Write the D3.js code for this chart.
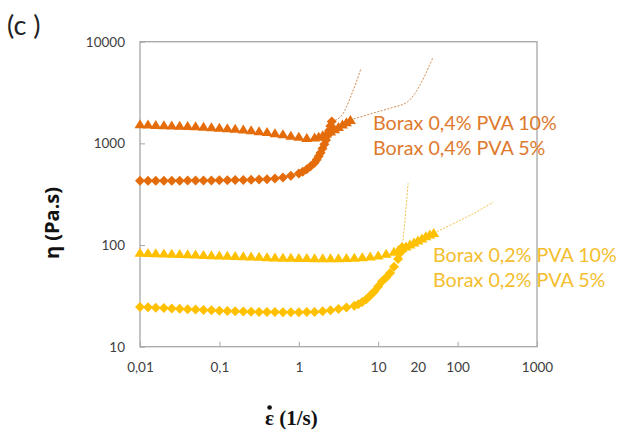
<!DOCTYPE html>
<html>
<head>
<meta charset="utf-8">
<script src="https://cdn.jsdelivr.net/npm/d3@7"></script>
<style>
  body { margin: 0; background: #fff; }
  svg { display: block; }
</style>
</head>
<body>
<div id="chart"></div>
<script>
// Borax 0,4% PVA 10%  (triangles)
const rateB4P10 = [0.01, 0.0126, 0.0158, 0.02, 0.0251, 0.0316, 0.0398, 0.0501, 0.0631, 0.0794,
  0.1, 0.126, 0.158, 0.2, 0.251, 0.316, 0.398, 0.501, 0.631, 0.794,
  1, 1.26, 1.58, 1.78, 2, 2.24, 2.51, 2.82, 3.16, 3.55, 3.98, 4.47];
const etaB4P10 = [1540, 1530, 1520, 1510, 1500, 1490, 1480, 1470, 1455, 1440,
  1425, 1410, 1390, 1370, 1345, 1315, 1290, 1260, 1230, 1190,
  1160, 1130, 1140, 1160, 1200, 1250, 1310, 1380, 1450, 1530, 1610, 1700];

// Borax 0,4% PVA 5%  (diamonds)
const rateB4P5 = [0.01, 0.0126, 0.0158, 0.02, 0.0251, 0.0316, 0.0398, 0.0501, 0.0631, 0.0794,
  0.1, 0.126, 0.158, 0.2, 0.251, 0.316, 0.398, 0.501, 0.631, 0.794,
  1, 1.12, 1.26, 1.41, 1.58, 1.68, 1.78, 1.88, 1.99, 2.1, 2.2, 2.3, 2.4, 2.5, 2.6];
const etaB4P5 = [430, 430, 430, 430, 430, 430, 431, 431, 432, 432,
  433, 434, 435, 436, 438, 440, 444, 450, 462, 480,
  505, 525, 555, 595, 645, 690, 745, 810, 890, 980, 1080, 1200, 1330, 1480, 1640];

// Borax 0,2% PVA 10%  (triangles)
const rateB2P10 = [0.01, 0.0126, 0.0158, 0.02, 0.0251, 0.0316, 0.0398, 0.0501, 0.0631, 0.0794,
  0.1, 0.126, 0.158, 0.2, 0.251, 0.316, 0.398, 0.501, 0.631, 0.794,
  1, 1.26, 1.58, 2, 2.51, 3.16, 3.98, 5.01, 6.31, 7.94,
  10, 12.6, 15.8, 17.8, 20, 22.4, 25.1, 28.2, 31.6, 35.5, 39.8, 44.7, 50];
const etaB2P10 = [84, 83.5, 83, 82.5, 82, 81.5, 81, 80.5, 80, 79.5,
  79, 78.5, 78, 77.5, 77, 76.5, 76, 75.5, 75, 75,
  74.5, 74.5, 74, 74, 74, 74, 74.5, 75, 76, 77,
  79, 82, 86, 89, 93, 97, 101, 106, 111, 116, 122, 127, 131];

// Borax 0,2% PVA 5%  (diamonds)
const rateB2P5 = [0.01, 0.0126, 0.0158, 0.02, 0.0251, 0.0316, 0.0398, 0.0501, 0.0631, 0.0794,
  0.1, 0.126, 0.158, 0.2, 0.251, 0.316, 0.398, 0.501, 0.631, 0.794,
  1, 1.26, 1.58, 2, 2.51, 3.16, 3.98, 5.01, 5.62, 6.31, 7.08, 7.94, 8.91,
  10, 11.2, 12.6, 14.1, 15.8, 17.8, 19, 20];
const etaB2P5 = [24.6, 24.4, 24.2, 24, 23.8, 23.6, 23.4, 23.2, 23, 22.8,
  22.6, 22.5, 22.3, 22.2, 22.1, 22, 21.9, 21.9, 21.8, 21.8,
  21.8, 21.9, 22, 22.3, 22.8, 23.5, 24.3, 25.3, 26.2, 27.5, 29.3, 31.8, 35,
  39, 44, 48, 53, 61, 73, 84, 95];

// dotted fit lines
const fitRateB4P10 = [4.47, 8, 15, 23.2, 29, 34, 39, 44, 49];
const fitEtaB4P10 = [1700, 1950, 2250, 2550, 3100, 3800, 4700, 5800, 7000];
const fitRateB4P5 = [2.6, 3.5, 4.6, 6.1];
const fitEtaB4P5 = [1640, 1900, 3000, 5500];
const fitRateB2P10 = [50, 100, 180, 281];
const fitEtaB2P10 = [131, 170, 215, 265];
const fitRateB2P5 = [20, 21.5, 22.7, 23.8];
const fitEtaB2P5 = [95, 160, 260, 405];

const xTicks = [0.01, 0.1, 1, 10, 100, 1000];
const xTickLabels = ['0,01', '0,1', '1', '10', '100', '1000'];
const yTicks = [10, 100, 1000, 10000];
const yTickLabels = ['10', '100', '1000', '10000'];
const legendLabels = ['Borax 0,4% PVA 10%', 'Borax 0,4% PVA 5%', 'Borax 0,2% PVA 10%', 'Borax 0,2% PVA 5%'];

const orange = '#E46C0A';
const yellow = '#FFC000';

const W = 618, H = 432;
const margin = { top: 41.7, right: 81, bottom: 85.3, left: 140 };

const svg = d3.select('#chart').append('svg')
  .attr('width', W)
  .attr('height', H)
  .style('font-family', 'Lato, "Open Sans", sans-serif');

const x = d3.scaleLog().domain([0.01, 1000]).range([margin.left, W - margin.right]);
const y = d3.scaleLog().domain([10, 10000]).range([H - margin.bottom, margin.top]);

// plot frame
svg.append('rect')
  .attr('x', x(0.01)).attr('y', y(10000))
  .attr('width', x(1000) - x(0.01)).attr('height', y(10) - y(10000))
  .attr('fill', 'none').attr('stroke', '#a6a6a6').attr('stroke-width', 1.3);

// x axis (ticks pointing inward)
const xAxis = svg.append('g')
  .attr('transform', `translate(0,${y(10)})`)
  .call(d3.axisBottom(x).tickValues(xTicks).tickSize(-5).tickFormat((d, i) => xTickLabels[i]));
xAxis.select('.domain').remove();
xAxis.selectAll('line').attr('stroke', '#a6a6a6');
xAxis.selectAll('text').attr('y', 25).attr('dy', 0)
  .attr('fill', '#404040').style('font-size', '13.5px').style('font-family', 'Lato, sans-serif');

// extra "20" label under the axis
svg.append('text')
  .attr('x', x(32)).attr('y', y(10) + 25)
  .attr('text-anchor', 'middle').attr('fill', '#404040')
  .style('font-size', '13.5px')
  .text('20');

// y axis
const yAxis = svg.append('g')
  .attr('transform', `translate(${x(0.01)},0)`)
  .call(d3.axisLeft(y).tickValues(yTicks).tickSize(-5).tickFormat((d, i) => yTickLabels[i]));
yAxis.select('.domain').remove();
yAxis.selectAll('line').attr('stroke', '#a6a6a6');
yAxis.selectAll('text').attr('x', -15)
  .attr('fill', '#404040').style('font-size', '13.5px').style('font-family', 'Lato, sans-serif');

// marker shapes
const triangle = 'M0,-5L5.5,4L-5.5,4Z';
const diamond = 'M0,-5L5,0L0,5L-5,0Z';

const fitLine = d3.line()
  .x(d => x(d[0]))
  .y(d => y(d[1]))
  .curve(d3.curveMonotoneX);

function drawFit(rates, etas, color) {
  svg.append('path')
    .datum(rates.map((r, i) => [r, etas[i]]))
    .attr('d', fitLine)
    .attr('fill', 'none')
    .attr('stroke', color)
    .attr('stroke-width', 1)
    .attr('stroke-dasharray', '2,1.5');
}

function drawSeries(rates, etas, shape, color) {
  svg.append('g').selectAll('path')
    .data(rates.map((r, i) => [r, etas[i]]))
    .enter().append('path')
    .attr('d', shape)
    .attr('transform', d => `translate(${x(d[0])},${y(d[1])})`)
    .attr('fill', color);
}

drawFit(fitRateB4P5, fitEtaB4P5, '#D28A4E');
drawFit(fitRateB4P10, fitEtaB4P10, '#D28A4E');
drawFit(fitRateB2P5, fitEtaB2P5, '#F3C24A');
drawFit(fitRateB2P10, fitEtaB2P10, '#F3C24A');

drawSeries(rateB4P10, etaB4P10, triangle, orange);
drawSeries(rateB4P5, etaB4P5, diamond, orange);
drawSeries(rateB2P10, etaB2P10, triangle, yellow);
drawSeries(rateB2P5, etaB2P5, diamond, yellow);

// series labels
const labelPos = [[373, 129.5], [373, 155], [433, 262], [433, 287]];
const labelColor = ['#DE7A2E', '#DE7A2E', '#F4BE2E', '#F4BE2E'];
svg.selectAll('.series-label')
  .data(legendLabels)
  .enter().append('text')
  .attr('class', 'series-label')
  .attr('x', (d, i) => labelPos[i][0])
  .attr('y', (d, i) => labelPos[i][1])
  .attr('fill', (d, i) => labelColor[i])
  .style('font-size', '19.7px')
  .text(d => d);

// panel letter
svg.append('text')
  .attr('x', 7).attr('y', 35)
  .attr('fill', '#222')
  .style('font-size', '27px')
  .text('(c )');

// y axis title
svg.append('text')
  .attr('transform', 'translate(59,223) rotate(-90)')
  .attr('text-anchor', 'middle')
  .attr('fill', '#111')
  .style('font-family', '"Open Sans", sans-serif')
  .style('font-weight', 'bold')
  .style('font-size', '20px')
  .text('η (Pa.s)');

// x axis title, the rate dot above epsilon is drawn as a small circle
svg.append('text')
  .attr('x', 265).attr('y', 425)
  .attr('fill', '#111')
  .style('font-family', '"Liberation Serif", serif')
  .style('font-weight', 'bold')
  .style('font-size', '21px')
  .text('ε (1/s)');
svg.append('circle')
  .attr('cx', 269.6).attr('cy', 407.5)
  .attr('r', 2.3)
  .attr('fill', '#111');
</script>
</body>
</html>
